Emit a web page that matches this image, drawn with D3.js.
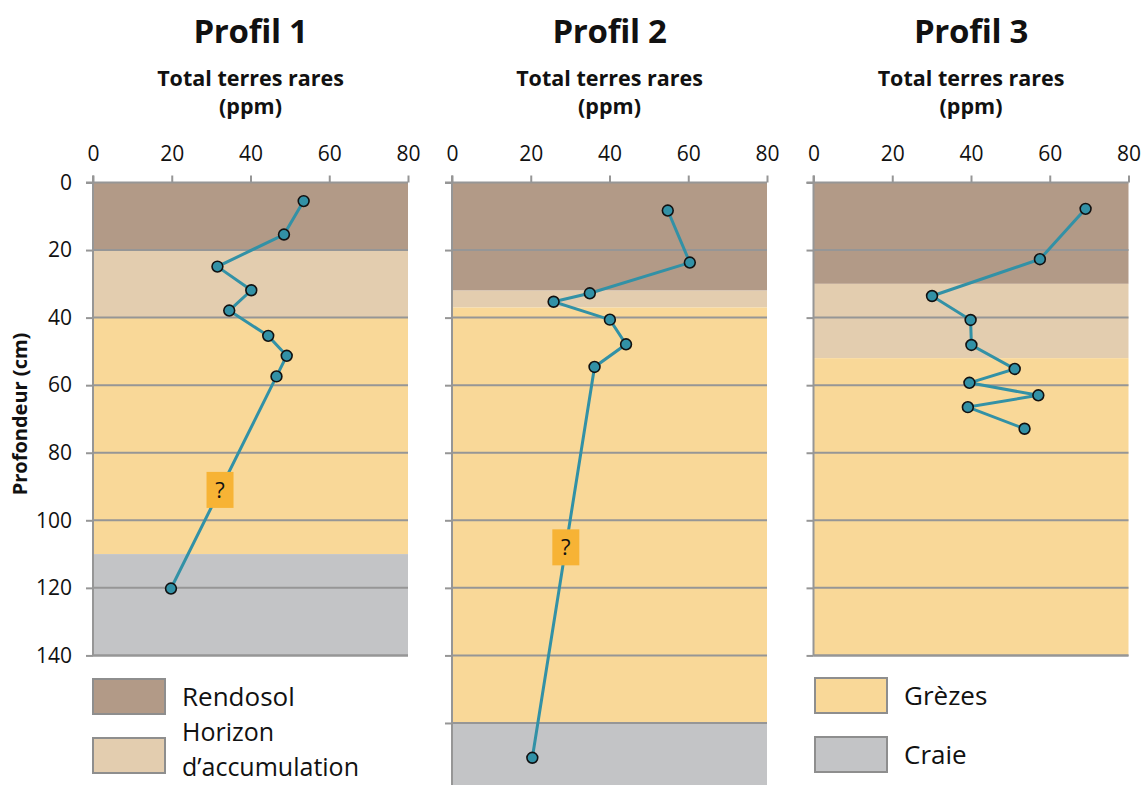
<!DOCTYPE html>
<html>
<head>
<meta charset="utf-8">
<script src="https://cdn.jsdelivr.net/npm/d3@7"></script>
<style>
  html, body { margin: 0; padding: 0; background: #fff; }
  svg { display: block; font-family: "Open Sans", sans-serif; }
</style>
</head>
<body>
<svg id="chart" width="1142" height="785"></svg>
<script>
// ---- Data ----
const profileNames = ["Profil 1", "Profil 2", "Profil 3"];
const xTickValues = [0, 20, 40, 60, 80];
const xAxisTitle = ["Total terres rares", "(ppm)"];
const yAxisTitle = "Profondeur (cm)";

// Depth (cm) and total REE (ppm) per profile
const depth1 = [5.5, 15.4, 24.9, 31.9, 37.9, 45.4, 51.3, 57.4, 120.2];
const ree1   = [53.5, 48.5, 31.6, 40.2, 34.6, 44.5, 49.2, 46.6, 19.8];
const depth2 = [8.3, 23.7, 32.8, 35.3, 40.6, 47.9, 54.6, 170.3];
const ree2   = [54.8, 60.4, 35.0, 25.8, 40.1, 44.2, 36.2, 20.4];
const depth3 = [7.8, 22.7, 33.6, 40.7, 48.1, 55.2, 59.3, 63.0, 66.5, 72.9];
const ree3   = [69.1, 57.5, 30.1, 39.9, 40.1, 51.1, 39.6, 57.1, 39.2, 53.6];

// Horizon names and boundaries (cm) per profile: Rendosol, Horizon, Grèzes, Craie
const layerNames = ["Rendosol", "Horizon d’accumulation", "Grèzes", "Craie"];
const layers1 = [0, 20, 40, 110, 140];
const layers2 = [0, 32, 37, 160, 180];
const layers3 = [0, 30, 52, 140, 140];
const maxDepths = [140, 180, 140];
const yTicks1 = [0, 20, 40, 60, 80, 100, 120, 140];
const yTicks2 = [0, 20, 40, 60, 80, 100, 120, 140, 160];
const yTicks3 = [0, 20, 40, 60, 80, 100, 120, 140];
// Depth of the "?" marker (uncertain interval) per profile
const unknownDepths = [91, 108, null];

// ---- Styles ----
const layerColors = ["#B29A87", "#E3CDAF", "#F9D898", "#C3C4C6"];
const gridColor = "#969696";
const lineColor = "#3291A6";
const qColor = "#F7B335";

const profiles = [
  { depth: depth1, ree: ree1, layers: layers1, ticks: yTicks1 },
  { depth: depth2, ree: ree2, layers: layers2, ticks: yTicks2 },
  { depth: depth3, ree: ree3, layers: layers3, ticks: yTicks3 }
];

const svg = d3.select("#chart");
const panelLefts = [93, 452, 813.5];
const panelWidth = 315;
const plotTop = 182.5;
const pxPerCm = 3.378;

profiles.forEach((p, i) => {
  const maxD = maxDepths[i];
  const left = panelLefts[i];
  const x = d3.scaleLinear().domain([0, 80]).range([left, left + panelWidth]);
  const y = d3.scaleLinear().domain([0, maxD]).range([plotTop, plotTop + maxD * pxPerCm]);
  const g = svg.append("g");

  // layers
  for (let k = 0; k < 4; k++) {
    const a = p.layers[k], b = p.layers[k + 1];
    if (b <= a) continue;
    g.append("rect")
      .attr("x", x(0)).attr("width", x(80) - x(0))
      .attr("y", y(a)).attr("height", y(b) - y(a))
      .attr("fill", layerColors[k]);
  }

  // grid lines
  g.selectAll("line.grid").data(p.ticks.filter(t => t > 0)).join("line")
    .attr("class", "grid")
    .attr("x1", x(0)).attr("x2", x(80))
    .attr("y1", d => y(d)).attr("y2", d => y(d))
    .attr("stroke", gridColor).attr("stroke-width", 2);

  // top axis
  const xAxis = d3.axisTop(x).tickValues(xTickValues).tickSize(7).tickPadding(15).tickFormat(d3.format("d"));
  const ax = g.append("g").attr("transform", `translate(0,${plotTop})`).call(xAxis);
  ax.select(".domain").attr("stroke", gridColor).attr("stroke-width", 2).attr("d", `M${x(0)-7},0H${x(80)}`);
  ax.selectAll(".tick line").attr("stroke", gridColor).attr("stroke-width", 2);
  ax.selectAll(".tick text").attr("fill", "#111").attr("font-size", 21).attr("font-family", "Open Sans");

  // left axis
  const yAxis = d3.axisLeft(y).tickValues(p.ticks).tickSize(7).tickPadding(14).tickFormat(d3.format("d"));
  const ay = g.append("g").attr("transform", `translate(${x(0)},0)`).call(yAxis);
  ay.select(".domain").attr("stroke", gridColor).attr("stroke-width", 2)
    .attr("d", `M0,${plotTop - 7}V${y(maxD)}`);
  ay.selectAll(".tick line").attr("stroke", gridColor).attr("stroke-width", 2);
  if (i === 0) {
    ay.selectAll(".tick text").attr("fill", "#111").attr("font-size", 21).attr("font-family", "Open Sans");
  } else {
    ay.selectAll(".tick text").remove();
  }
  // bottom border
  if (maxD <= 140) {
    g.append("line").attr("x1", x(0)).attr("x2", x(80)).attr("y1", y(140)).attr("y2", y(140))
      .attr("stroke", gridColor).attr("stroke-width", 2);
  }

  // data line
  const pts = p.depth.map((d, j) => [p.ree[j], d]);
  g.append("path").datum(pts)
    .attr("d", d3.line().x(d => x(d[0])).y(d => y(d[1])))
    .attr("fill", "none").attr("stroke", lineColor).attr("stroke-width", 3);

  // "?" marker
  const ud = unknownDepths[i];
  if (ud != null) {
    const n = pts.length;
    const a = pts[n - 2], b = pts[n - 1];
    const t = (ud - a[1]) / (b[1] - a[1]);
    const v = a[0] + (b[0] - a[0]) * t;
    g.append("rect").attr("x", x(v) - 13.5).attr("y", y(ud) - 18)
      .attr("width", 27).attr("height", 36).attr("fill", qColor);
    g.append("text").attr("x", x(v)).attr("y", y(ud) + 8)
      .attr("text-anchor", "middle").attr("font-size", 22).attr("fill", "#111").text("?");
  }

  // points
  g.selectAll("circle").data(pts).join("circle")
    .attr("cx", d => x(d[0])).attr("cy", d => y(d[1]))
    .attr("r", 5.4).attr("fill", lineColor).attr("stroke", "#111").attr("stroke-width", 1.6);

  // titles
  const cx = (x(0) + x(80)) / 2;
  svg.append("text").attr("x", cx).attr("y", 43).attr("text-anchor", "middle")
    .attr("font-size", 33).attr("font-weight", 700).attr("letter-spacing", -0.3).attr("fill", "#111")
    .text(profileNames[i]);
  svg.append("text").attr("x", cx).attr("y", 86).attr("text-anchor", "middle")
    .attr("font-size", 21.5).attr("font-weight", 700).attr("fill", "#111")
    .text(xAxisTitle[0]);
  svg.append("text").attr("x", cx).attr("y", 114).attr("text-anchor", "middle")
    .attr("font-size", 21.5).attr("font-weight", 700).attr("fill", "#111")
    .text(xAxisTitle[1]);
});

// y axis title
svg.append("text").attr("transform", "translate(27,414) rotate(-90)")
  .attr("text-anchor", "middle").attr("font-size", 20).attr("font-weight", 700)
  .attr("fill", "#111").text(yAxisTitle);

// legend
const legendItems = [
  { k: 0, x: 93, y: 679, lines: ["Rendosol"] },
  { k: 1, x: 93, y: 738, lines: ["Horizon", "d’accumulation"] },
  { k: 2, x: 815, y: 678, lines: ["Grèzes"] },
  { k: 3, x: 815, y: 737, lines: ["Craie"] }
];
legendItems.forEach(it => {
  svg.append("rect").attr("x", it.x).attr("y", it.y).attr("width", 72).attr("height", 35)
    .attr("fill", layerColors[it.k]).attr("stroke", "#8E8E8E").attr("stroke-width", 2);
  const tx = it.x + 89;
  if (it.lines.length === 1) {
    svg.append("text").attr("x", tx).attr("y", it.y + 27).attr("font-size", 26).attr("fill", "#111")
      .text(it.lines[0]);
  } else {
    svg.append("text").attr("x", tx).attr("y", it.y + 3).attr("font-size", 25).attr("fill", "#111")
      .text(it.lines[0]);
    svg.append("text").attr("x", tx).attr("y", it.y + 38).attr("font-size", 25).attr("fill", "#111")
      .text(it.lines[1]);
  }
});
</script>
</body>
</html>
